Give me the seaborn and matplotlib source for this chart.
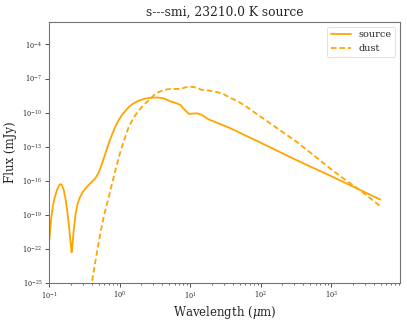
import numpy as np
import pandas as pd
import matplotlib
matplotlib.use("Agg")
import matplotlib.pyplot as plt
import seaborn as sns
from matplotlib.ticker import LogLocator, NullLocator

# ---- data ----
source_wl = [0.1, 0.103, 0.107, 0.112, 0.12, 0.13, 0.138, 0.143, 0.15, 0.16,
             0.17, 0.18, 0.19, 0.2, 0.207, 0.212, 0.22, 0.235, 0.25, 0.27,
             0.3, 0.324, 0.37, 0.449, 0.5, 0.559, 0.62, 0.693, 0.78, 0.863,
             0.95, 1.074, 1.2, 1.33, 1.55, 1.85, 2.3, 2.86, 3.5, 4.2,
             5.2, 6.2, 7.2, 8.3, 9.5, 10.5, 12.4, 14.5, 18.2, 20.0,
             36.9, 100.0, 324.0, 1000.0, 4955.0]
source_flux = [6.3e-22, 6.3e-21, 6.3e-20, 5.0e-19, 4.0e-18, 1.8e-17, 4.0e-17, 5.0e-17, 4.5e-17, 1.6e-17,
               2.5e-18, 2.0e-19, 1.0e-20, 4.0e-22, 5.0e-23, 1.6e-22, 2.5e-21, 1.0e-19, 7.9e-19, 3.2e-18,
               1.1e-17, 2.0e-17, 5.0e-17, 1.6e-16, 5.0e-16, 3.2e-15, 2.2e-14, 1.8e-13, 1.26e-12, 5.6e-12,
               1.9e-11, 6.3e-11, 1.4e-10, 2.9e-10, 6.3e-10, 1.1e-9, 1.7e-9, 2.1e-9, 2.1e-9, 1.8e-9,
               1.0e-9, 7.0e-10, 4.8e-10, 1.8e-10, 7.8e-11, 7.9e-11, 8.7e-11, 6.3e-11, 2.5e-11, 2.0e-11,
               4.2e-12, 2.2e-13, 6.3e-15, 2.5e-16, 2.2e-18]

dust_wl = [0.35, 0.40, 0.45, 0.53, 0.6, 0.693, 0.78, 0.863, 0.96, 1.074,
           1.2, 1.33, 1.55, 1.85, 2.2, 2.71, 3.19, 4.18, 5.2, 6.46,
           7.5, 8.5, 9.5, 11.0, 12.4, 14.5, 19.2, 24.0, 29.6, 36.9,
           45.6, 60.0, 80.0, 110.0, 180.0, 326.0, 600.0, 968.0, 1660.0, 2570.0,
           4955.0]
dust_flux = [2.5e-29, 1.0e-25, 7.9e-24, 2.5e-21, 1.0e-19, 3.2e-18, 6.3e-17, 7.9e-16, 1.0e-14, 1.0e-13,
             7.9e-13, 5.0e-12, 3.2e-11, 1.5e-10, 5.0e-10, 1.6e-9, 4.5e-9, 1.0e-8, 1.2e-8, 1.2e-8,
             1.26e-8, 1.66e-8, 1.9e-8, 1.8e-8, 1.5e-8, 1.0e-8, 8.5e-9, 6.3e-9, 4.2e-9, 1.95e-9,
             1.1e-9, 4.0e-10, 1.1e-10, 2.8e-11, 3.3e-12, 2.5e-13, 1.26e-14, 1.15e-15, 9.5e-17, 1.45e-17,
             5.6e-19]

series_labels = ["source", "dust"]
title_text = "s---smi, 23210.0 K source"
x_label = r"Wavelength ($\mu$m)"
y_label = "Flux (mJy)"
y_ticks = [1e-25, 1e-22, 1e-19, 1e-16, 1e-13, 1e-10, 1e-7, 1e-4]
x_limits = (0.1, 9500.0)
y_limits = (1e-25, 1e-2)

# ---- style ----
sns.set_style("ticks")
plt.rcParams['font.family'] = ['DejaVu Serif']
plt.rcParams['mathtext.fontset'] = 'dejavuserif'

fig = plt.figure(figsize=(4.07, 3.22), dpi=100)
ax = fig.add_axes([49.3 / 407, 39.0 / 322, 351.0 / 407, 261.3 / 322])

src = pd.DataFrame({"wl": source_wl, "flux": source_flux})
dst = pd.DataFrame({"wl": dust_wl, "flux": dust_flux})

color = "#FFA500"
sns.lineplot(data=src, x="wl", y="flux", ax=ax, color=color, lw=1.3,
             label=series_labels[0], sort=True)
sns.lineplot(data=dst, x="wl", y="flux", ax=ax, color=color, lw=1.3,
             label=series_labels[1], sort=True, dashes=False)
ax.lines[1].set_dashes((3.0, 1.7))

ax.set_xscale("log")
ax.set_yscale("log")
ax.set_xlim(*x_limits)
ax.set_ylim(*y_limits)
ax.set_yticks(y_ticks)
ax.yaxis.set_minor_locator(NullLocator())
ax.xaxis.set_major_locator(LogLocator(base=10, numticks=20))
ax.xaxis.set_minor_locator(LogLocator(base=10, subs=np.arange(2, 10), numticks=20))

ax.set_title(title_text, fontsize=8.8, pad=4)
ax.set_xlabel(x_label, fontsize=8.5, labelpad=2)
ax.set_ylabel(y_label, fontsize=8.5, labelpad=4)
ax.tick_params(axis="both", which="major", labelsize=4.8, length=3, width=0.6,
               direction="out", color="0.2", pad=2)
ax.tick_params(axis="both", which="minor", length=1.6, width=0.5, color="0.2")

for sp in ax.spines.values():
    sp.set_color("0.45")
    sp.set_linewidth(0.8)

leg = ax.legend(loc="upper right", fontsize=7, frameon=True)
leg.get_frame().set_edgecolor("0.85")
leg.get_frame().set_linewidth(0.7)
leg.get_lines()[1].set_dashes((3.0, 1.7))

fig.savefig("out.png", dpi=100)
